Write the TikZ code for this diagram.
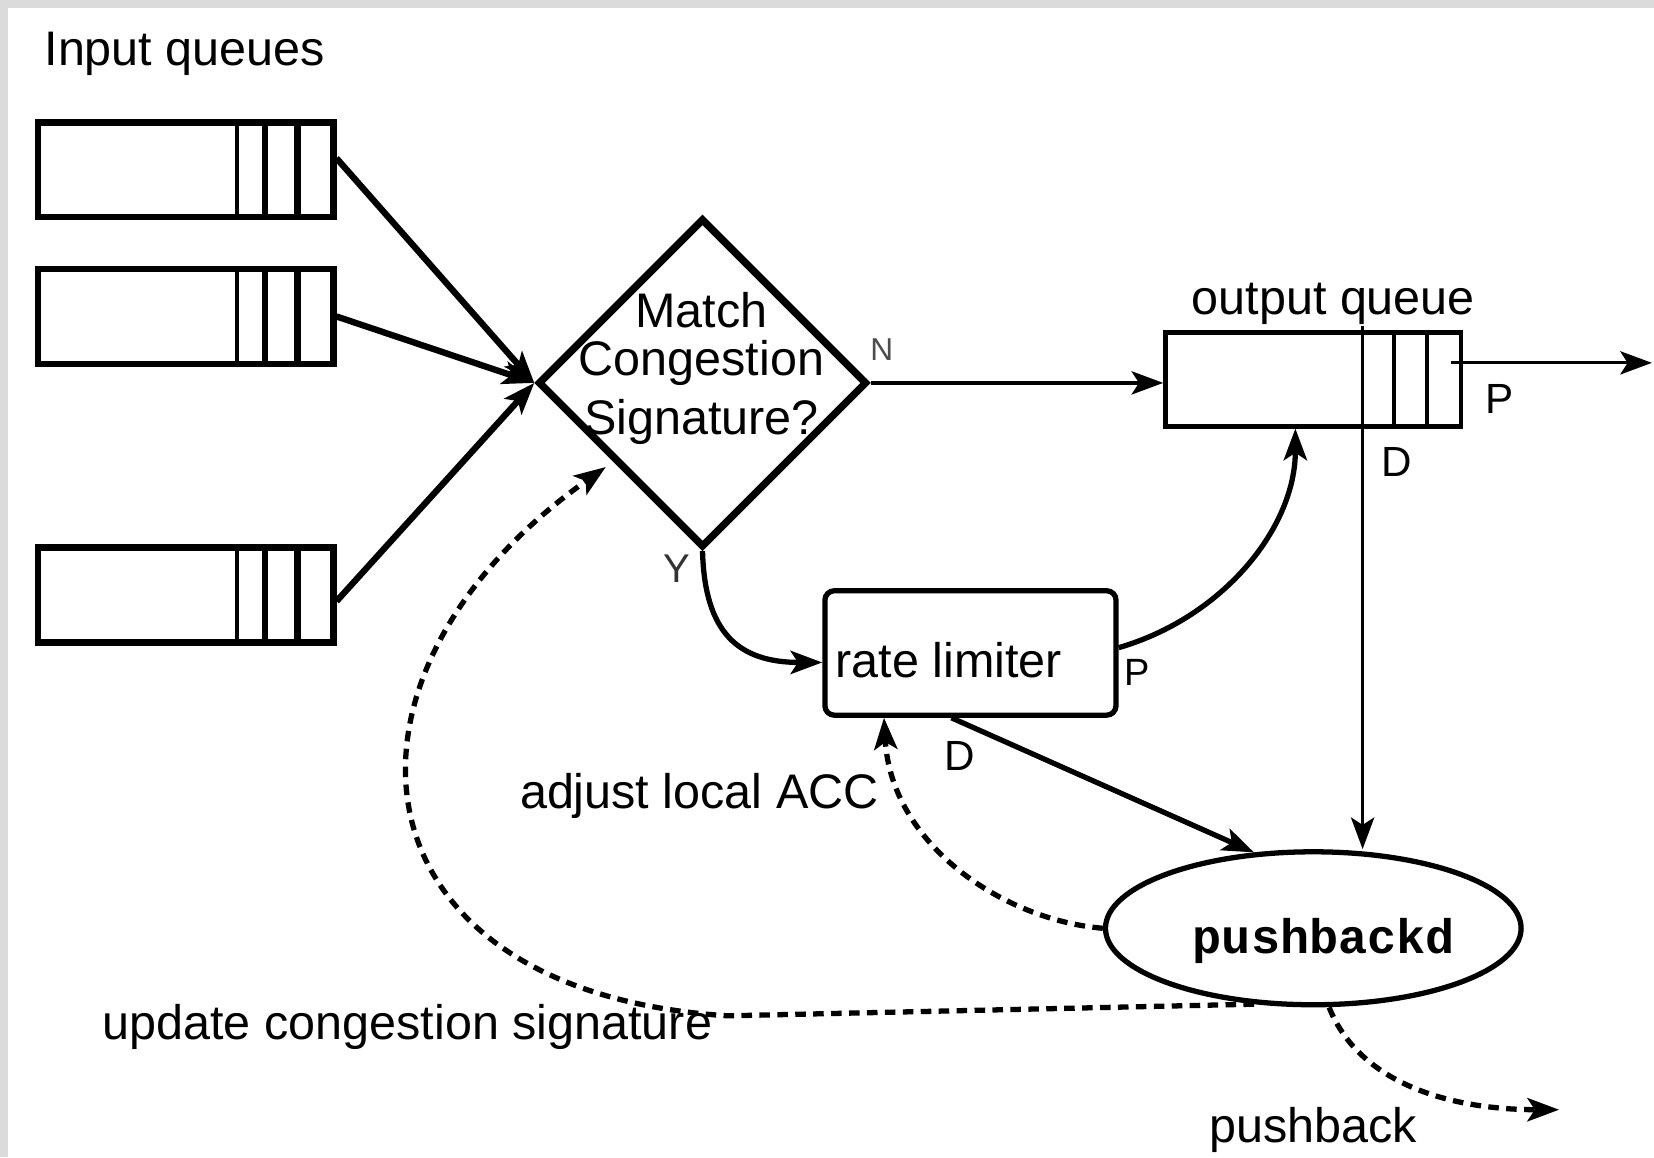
\documentclass[tikz,border=0pt]{standalone}
\usepackage{fontspec}
\setmainfont{Liberation Sans}
\newfontfamily\codefont{Liberation Mono}
\usetikzlibrary{shapes.geometric,arrows.meta,calc}
\begin{document}
\begin{tikzpicture}[x=1pt,y=-1pt,
  txt/.style={font=\fontsize{46}{50}\selectfont, inner sep=0pt},
  lbl/.style={font=\fontsize{40}{44}\selectfont, inner sep=0pt},
  qbox/.style={draw, line width=6pt, minimum width=280pt, minimum height=90pt, inner sep=0pt},
  arr/.style={-{Stealth[length=30pt,width=22pt,inset=7pt]}},
  dashline/.style={line width=5pt, dash pattern=on 10pt off 7pt},
  thickline/.style={line width=6pt},
  thinline/.style={line width=3.5pt}]

% canvas and frame strips
\fill[white] (0,0) rectangle (1568,1097);
\fill[black!14] (0,0) rectangle (1568,8);
\fill[black!14] (0,0) rectangle (8,1097);
\useasboundingbox (0,0) rectangle (1568,1097);

% input queues
\node[txt, anchor=base west] (inlabel) at (42,62) {Input queues};
\node[qbox] (q1) at (176,161) {};
\node[qbox] (q2) at (176,300) {};
\node[qbox] (q3) at (176,564) {};
\foreach \q in {q1,q2,q3}{
  \draw[line width=3.5pt] ($(\q.north west)+(192,0)$) -- ($(\q.south west)+(192,0)$);
  \draw[line width=6pt] ($(\q.north west)+(218,0)$) -- ($(\q.south west)+(218,0)$);
  \draw[line width=6pt] ($(\q.north west)+(249,0)$) -- ($(\q.south west)+(249,0)$);
}

% decision diamond
\node[draw, diamond, aspect=1, line width=7pt, minimum width=312pt, minimum height=312pt, inner sep=0pt] (dm) at (666,363) {};
\node[txt, anchor=base] (m1) at (665,310) {Match};
\node[txt, anchor=base] (m2) at (665,356) {Congestion};
\node[txt, anchor=base] (m3) at (665,412) {Signature?};
\node[font=\fontsize{30}{34}\selectfont, inner sep=0pt, anchor=base, text=black!70] (nlabel) at (836,342) {N};
\node[font=\fontsize{38}{42}\selectfont, inner sep=0pt, anchor=base, text=black!80] (ylabel) at (642,552) {Y};

% output queue
\node[txt, anchor=base] (oqlabel) at (1264,298) {output queue};
\node[qbox, line width=4.5pt, minimum height=89pt] (oq) at (1245,359.5) {};
\draw[line width=3.5pt] ($(oq.north west)+(219,0)$) -- ($(oq.south west)+(219,0)$);
\draw[line width=3.5pt] ($(oq.north west)+(250,0)$) -- ($(oq.south west)+(250,0)$);
\coordinate (oqd) at ($(oq.north west)+(189,-4)$);
\coordinate (oqout) at (1376,344);
\coordinate (outend) at (1566,344);
\node[lbl, anchor=base] (plabel) at (1422,392) {P};
\node[lbl, anchor=base] (dlabel) at (1324,452) {D};

% rate limiter
\node[draw, rounded corners=9pt, line width=5pt, minimum width=276pt, minimum height=118pt, inner sep=0pt] (rl) at (920,619) {};
\node[txt, anchor=base west] (rltext) at (792,642) {rate limiter};
\node[font=\fontsize{36}{40}\selectfont, inner sep=0pt, anchor=base] (rlp) at (1078,650) {P};
\node[lbl, anchor=base] (rld) at (910,730) {D};

% pushback daemon
\node[draw, ellipse, line width=5pt, minimum width=394pt, minimum height=145pt, inner sep=0pt] (pb) at (1245,880) {};
\node[font=\codefont\bfseries\fontsize{46}{50}\selectfont, inner sep=0pt, anchor=base] (pbtext) at (1255,904) {pushbackd};

% free labels of the control paths
\node[txt, anchor=base] (acc) at (663,766) {adjust local ACC};
\node[txt, anchor=base west] (ucs) at (97,985) {update congestion signature};
\node[txt, anchor=base] (pbl) at (1245,1083) {pushback};
\coordinate (ucsend) at (690,963);
\coordinate (pbend) at (1478,1052);

% data path
\draw[thickline, arr] ([yshift=11pt]q1.east) -- (dm.west);
\draw[thickline, arr] (q2.east) -- (dm.west);
\draw[thickline, arr] ([yshift=-6pt]q3.east) -- (dm.west);
\draw[thinline, arr] (dm.east) -- (dm.east -| oq.west);
\draw[line width=3pt, arr] (oqout) -- (outend);
\draw[thinline, arr] (oqd) -- (oqd |- pb.north);
\draw[line width=5pt, arr] (dm.south) .. controls (668,600) and (700,628) .. ([yshift=-9pt]rl.west);
\draw[line width=5pt, arr] ([yshift=5pt]rl.east) .. controls (1160,585) and (1228,500) .. ([xshift=-17pt]oq.south);
\draw[line width=5pt, arr] ([xshift=-18pt]rl.south) -- (pb.128);

% control path
\draw[dashline, arr] (pb.west) .. controls (950,872) and (845,800) .. ([xshift=-82pt]rl.south);
\draw[dashline, arr] (pb.232) -- (ucsend) .. controls (325,940) and (295,640) .. ([xshift=-12pt]dm.south west);
\draw[dashline, arr] ([xshift=15pt]pb.south) .. controls (1290,1030) and (1380,1052) .. (pbend);
\end{tikzpicture}
\end{document}
